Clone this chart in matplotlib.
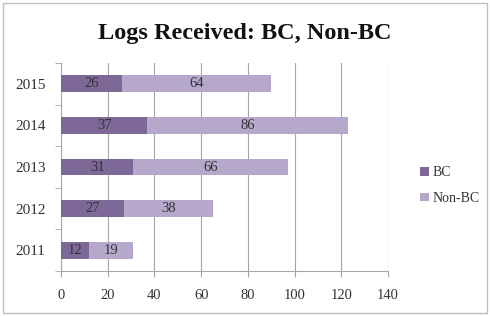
import matplotlib
matplotlib.use("Agg")
import matplotlib.pyplot as plt
from matplotlib.patches import Rectangle
import numpy as np

years = ["2011", "2012", "2013", "2014", "2015"]
bc = [12, 27, 31, 37, 26]
non_bc = [19, 38, 66, 86, 64]
x_ticks = [0, 20, 40, 60, 80, 100, 120, 140]

c_bc = "#7d6898"
c_non = "#b5a8cb"
grid_c = "#a6a6a6"
txt_c = "#333333"

plt.rcParams["font.family"] = ["Liberation Serif", "DejaVu Serif"]

fig = plt.figure(figsize=(4.9, 3.16), dpi=100)
fig.patches.append(Rectangle((0.006, 0.009), 0.988, 0.982, transform=fig.transFigure,
                             fill=False, edgecolor="#bfbfbf", linewidth=1.0))
ax = fig.add_axes([0.1245, 0.1424, 0.6675, 0.6582])

y = np.arange(len(years))
b1 = ax.barh(y, bc, height=0.4, color=c_bc, zorder=3)
b2 = ax.barh(y, non_bc, left=bc, height=0.4, color=c_non, zorder=3)
for bars, vals in ((b1, bc), (b2, non_bc)):
    for rect, v in zip(bars, vals):
        ax.text(rect.get_x() + rect.get_width() / 2, rect.get_y() + rect.get_height() / 2,
                str(v), ha="center", va="center", fontsize=10.5, color=txt_c, zorder=4)

ax.set_xlim(0, 140)
ax.set_ylim(-0.5, len(years) - 0.5)
ax.set_xticks(x_ticks)
ax.set_xticklabels([str(t) for t in x_ticks], fontsize=10.5, color=txt_c)
ax.set_yticks(y)
ax.set_yticklabels(years, fontsize=11, color=txt_c)
ax.set_yticks(np.arange(-0.5, len(years)), minor=True)
ax.tick_params(axis="y", which="major", length=0, pad=11)
ax.tick_params(axis="y", which="minor", length=4, color=grid_c, direction="out")
ax.tick_params(axis="x", which="major", length=4, color=grid_c, pad=9)
ax.grid(axis="x", color=grid_c, linewidth=0.8, zorder=0)
for s in ("top", "right"):
    ax.spines[s].set_visible(False)
for s in ("left", "bottom"):
    ax.spines[s].set_color(grid_c)
    ax.spines[s].set_linewidth(0.8)

fig.text(0.5, 0.893, "Logs Received: BC, Non-BC", ha="center", va="center",
         fontsize=17.5, fontweight="bold", color="#111111")

leg = ax.legend([b1, b2], ["BC", "Non-BC"], loc="center left",
                bbox_to_anchor=(1.06, 0.41), frameon=False, fontsize=10,
                handlelength=0.6, handleheight=0.6, handletextpad=0.3, labelspacing=0.9)
for t in leg.get_texts():
    t.set_color(txt_c)

fig.savefig("out.png", dpi=100)
